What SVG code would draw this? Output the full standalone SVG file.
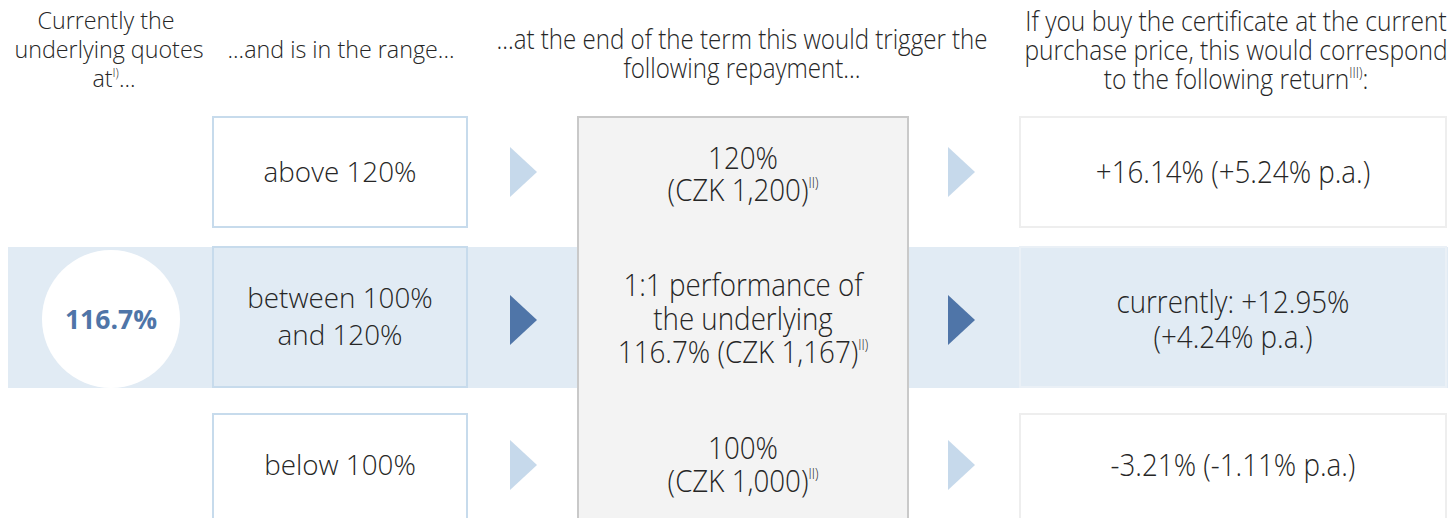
<svg xmlns="http://www.w3.org/2000/svg" width="1456" height="518" viewBox="0 0 1456 518">
<style>
.t{font-family:"Open Sans","DejaVu Sans",sans-serif;font-weight:300;fill:#262626;text-anchor:middle}
.h{font-size:23.3px}
.b{font-size:27.8px}
.ch{font-size:27px}
.cb{font-size:30.5px}
.sup{font-size:12px}
.csup{font-size:14px}
.rng{fill:#ffffff;stroke:#c7dbec;stroke-width:2}
.rng2{fill:#e1ebf4;stroke:#c7dbec;stroke-width:2}
.res{fill:#ffffff;stroke:#eeeeee;stroke-width:2}
.res2{fill:#e1ebf4;stroke:#eaf0f6;stroke-width:2}
.lt{fill:#c6d9eb}
.dk{fill:#4f75a8}
</style>
<rect id="band" x="8" y="247" width="1440" height="141" fill="#e1ebf4"/>
<g id="headers">
<text class="t h"><tspan x="106" y="29">Currently the</tspan><tspan x="109" y="58">underlying quotes</tspan><tspan x="114" y="87">at<tspan class="sup" dy="-10">I)</tspan><tspan dy="10">...</tspan></tspan></text>
<text class="t h" x="341" y="58">...and is in the range...</text>
<g transform="translate(742,0) scale(0.893,1)"><text class="t ch"><tspan x="0" y="49">...at the end of the term this would trigger the</tspan><tspan x="0" y="78">following repayment...</tspan></text></g>
<g transform="translate(1236,0) scale(0.91,1)"><text class="t ch"><tspan x="0" y="31">If you buy the certificate at the current</tspan><tspan x="0" y="60">purchase price, this would correspond</tspan><tspan x="0" y="89">to the following return<tspan class="csup" dy="-11">III)</tspan><tspan dy="11">:</tspan></tspan></text></g>
</g>
<g id="current">
<circle cx="111" cy="319" r="69" fill="#ffffff"/>
<text class="t" x="111" y="329" style="font-size:26.5px;font-weight:700;fill:#4f75a8">116.7%</text>
</g>
<g id="range-above">
<rect class="rng" x="213" y="117" width="254" height="110"/>
<text class="t b" x="340" y="182">above 120%</text>
</g>
<g id="range-between">
<rect class="rng2" x="213" y="247" width="254" height="140"/>
<text class="t b"><tspan x="340" y="308">between 100%</tspan><tspan x="340" y="345">and 120%</tspan></text>
</g>
<g id="range-below">
<rect class="rng" x="213" y="414" width="254" height="110"/>
<text class="t b" x="340" y="475">below 100%</text>
</g>
<g id="repayment">
<rect x="578" y="117" width="330" height="410" fill="#f3f3f3" stroke="#c9c9c9" stroke-width="2"/>
<g transform="translate(743,0) scale(0.91,1)">
<text class="t cb"><tspan x="0" y="169">120%</tspan><tspan x="0" y="201">(CZK 1,200)<tspan class="csup" dy="-13">II)</tspan></tspan></text>
<text class="t cb"><tspan x="0" y="296">1:1 performance of</tspan><tspan x="0" y="330">the underlying</tspan><tspan x="0" y="363">116.7% (CZK 1,167)<tspan class="csup" dy="-13">II)</tspan></tspan></text>
<text class="t cb"><tspan x="0" y="459">100%</tspan><tspan x="0" y="492">(CZK 1,000)<tspan class="csup" dy="-13">II)</tspan></tspan></text>
</g>
</g>
<g id="return-above">
<rect class="res" x="1020" y="117" width="426" height="110"/>
<g transform="translate(1233,0) scale(0.91,1)"><text class="t cb" x="0" y="183">+16.14% (+5.24% p.a.)</text></g>
</g>
<g id="return-between">
<rect class="res2" x="1020" y="247" width="426" height="140"/>
<g transform="translate(1233,0) scale(0.91,1)"><text class="t cb"><tspan x="0" y="313">currently: +12.95%</tspan><tspan x="0" y="348">(+4.24% p.a.)</tspan></text></g>
</g>
<g id="return-below">
<rect class="res" x="1020" y="414" width="426" height="110"/>
<g transform="translate(1233,0) scale(0.91,1)"><text class="t cb" x="0" y="476">-3.21% (-1.11% p.a.)</text></g>
</g>
<g id="connectors">
<polygon class="lt" points="510,147 537,172 510,197"/>
<polygon class="dk" points="510,295 537,320 510,345"/>
<polygon class="lt" points="510,440 537,465 510,490"/>
<polygon class="lt" points="948,147 975,172 948,197"/>
<polygon class="dk" points="948,295 975,320 948,345"/>
<polygon class="lt" points="948,440 975,465 948,490"/>
</g>
</svg>
